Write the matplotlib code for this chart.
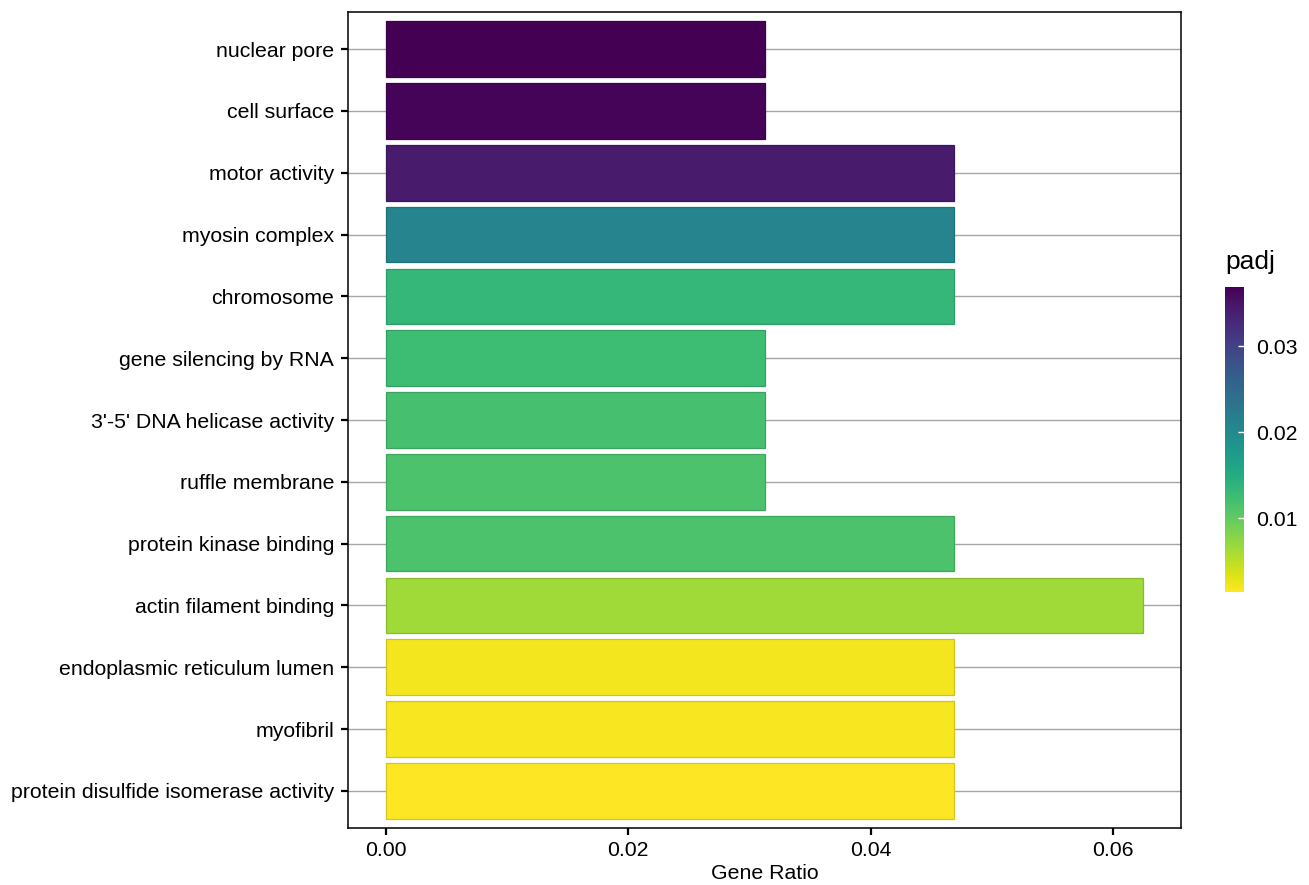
import matplotlib
matplotlib.use("Agg")
import matplotlib.pyplot as plt
import matplotlib.colors as mcolors
import numpy as np

plt.rcParams['font.family'] = ['Liberation Sans', 'DejaVu Sans']

terms = ['nuclear pore', 'cell surface', 'motor activity', 'myosin complex',
         'chromosome', 'gene silencing by RNA', "3'-5' DNA helicase activity",
         'ruffle membrane', 'protein kinase binding', 'actin filament binding',
         'endoplasmic reticulum lumen', 'myofibril',
         'protein disulfide isomerase activity']
gene_ratio = [0.03125, 0.03125, 0.046875, 0.046875, 0.046875, 0.03125, 0.03125,
              0.03125, 0.046875, 0.0625, 0.046875, 0.046875, 0.046875]
padj = [0.0369, 0.0366, 0.0344, 0.0209, 0.0133, 0.0126, 0.0119,
        0.0115, 0.0115, 0.0064, 0.0020, 0.0017, 0.0014]

cmap = plt.get_cmap('viridis_r')
norm = mcolors.Normalize(vmin=min(padj), vmax=max(padj))

fig = plt.figure(figsize=(13.09, 8.85), dpi=100)
ax = fig.add_axes([0.2659, 0.0644, 0.9022 - 0.2659, 0.9864 - 0.0644])

ypos = np.arange(len(terms))[::-1]
fills = [cmap(norm(p)) for p in padj]
edges = [tuple(c * 0.85 for c in f[:3]) for f in fills]
ax.barh(ypos, gene_ratio, height=0.9, color=fills, edgecolor=edges,
        linewidth=0.9, zorder=2)

ax.set_xlim(-0.003125, 0.065625)
ax.set_ylim(-0.6, len(terms) - 0.4)
ax.set_yticks(ypos)
ax.set_yticklabels(terms)
ax.set_xticks([0, 0.02, 0.04, 0.06])
ax.set_xticklabels(['0.00', '0.02', '0.04', '0.06'])
ax.set_xlabel('Gene Ratio', fontsize=15.3, labelpad=3)
ax.tick_params(axis='both', labelsize=15.3, colors='black', length=5, width=1.6)
ax.tick_params(axis='y', pad=5)
ax.tick_params(axis='x', pad=4)
ax.grid(axis='y', color='#a6a6a6', linewidth=1, zorder=0)
ax.set_axisbelow(True)
for s in ax.spines.values():
    s.set_color('black')
    s.set_linewidth(1.1)

cax = fig.add_axes([0.9358, 0.3311, 0.0145, 0.3446])
sm = matplotlib.cm.ScalarMappable(norm=norm, cmap=cmap)
cb = fig.colorbar(sm, cax=cax, ticks=[0.01, 0.02, 0.03])
cb.outline.set_visible(False)
cb.ax.set_yticklabels(['0.01', '0.02', '0.03'])
cb.ax.tick_params(labelsize=15.3, length=4, width=1, color='white',
                  direction='in', pad=9)
fig.text(0.9358, 0.690, 'padj', fontsize=19, ha='left', va='bottom')

fig.savefig('out.png', dpi=100)
